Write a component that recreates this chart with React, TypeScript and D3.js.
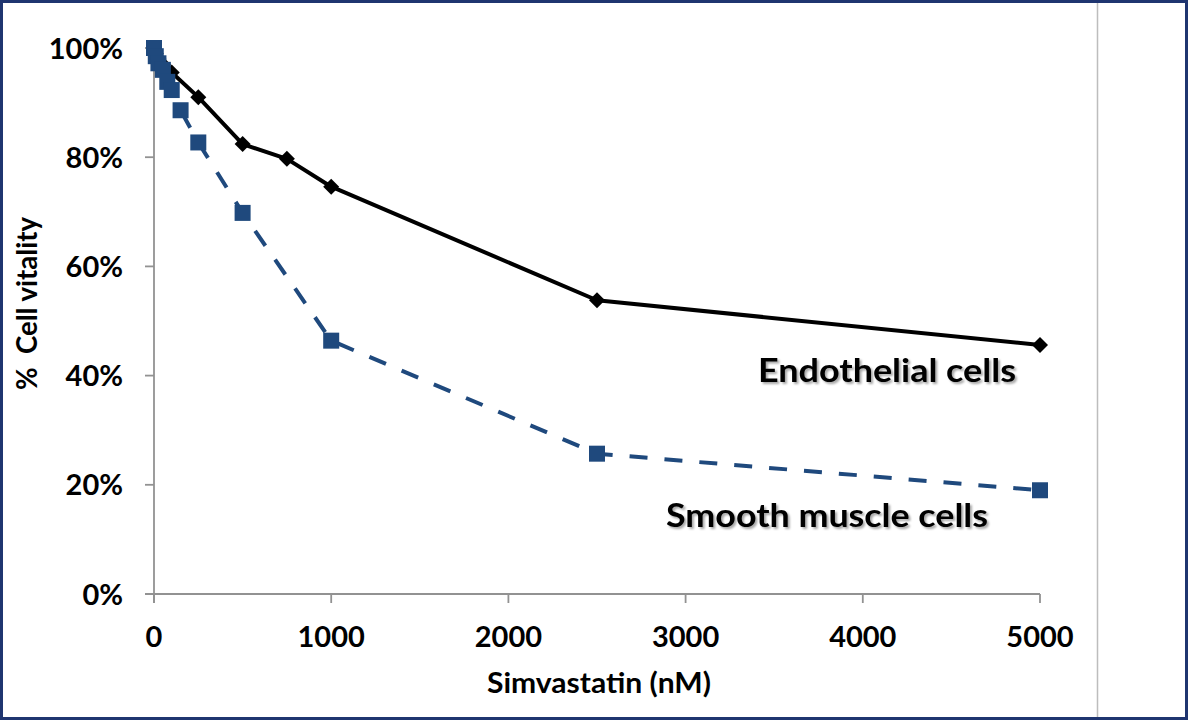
import React from "react";
import * as d3 from "d3";

const smcDose = [0, 10, 25, 50, 75, 100, 150, 250, 500, 1000, 2500, 5000];
const smcVital = [1.0, 0.985, 0.972, 0.96, 0.938, 0.923, 0.886, 0.827, 0.698, 0.464, 0.257, 0.19];
const ecDose = [0, 10, 25, 50, 100, 250, 500, 750, 1000, 2500, 5000];
const ecVital = [1.0, 0.99, 0.98, 0.97, 0.955, 0.91, 0.824, 0.797, 0.746, 0.538, 0.456];
const xTicks = [0, 1000, 2000, 3000, 4000, 5000];
const yTicks = [0, 0.2, 0.4, 0.6, 0.8, 1.0];
const seriesLabels = ["Endothelial cells", "Smooth muscle cells"];
const xTitle = "Simvastatin (nM)";
const yTitle = "%  Cell vitality";

const W = 1188;
const H = 720;
const FONT = "Lato, 'Open Sans', sans-serif";

export default function App() {
  const x = d3.scaleLinear().domain([0, 5000]).range([154, 1040]);
  const y = d3.scaleLinear().domain([0, 1]).range([594, 48]);
  const line = d3.line<[number, number]>().x((d) => x(d[0])).y((d) => y(d[1]));
  const ecPts: [number, number][] = ecDose.map((d, i) => [d, ecVital[i]]);
  const smcPts: [number, number][] = smcDose.map((d, i) => [d, smcVital[i]]);
  const blue = "#1f497d";
  const axisCol = "#929292";
  const fmt = d3.format(".0%");
  const diamond = "M0,-8L8,0L0,8L-8,0Z";
  const sq = 16;

  return (
    <svg width={W} height={H} style={{ position: "absolute", left: 0, top: 0, background: "#fff" }}>
      <defs>
        <filter id="sh" x="-10%" y="-30%" width="130%" height="160%">
          <feDropShadow dx="2" dy="2" stdDeviation="1.2" floodColor="#000" floodOpacity="0.35" />
        </filter>
      </defs>
      <rect x={0} y={0} width={W} height={H} fill="#fff" />
      <line x1={1097.5} x2={1097.5} y1={0} y2={H} stroke="#bdbdbd" strokeWidth={1.5} />
      <rect x={1.5} y={1.5} width={W - 3} height={H - 3} fill="none" stroke="#1f3570" strokeWidth={3} />

      {/* axes */}
      <line x1={x(0)} x2={x(0)} y1={y(1)} y2={y(0) + 9} stroke={axisCol} strokeWidth={1.8} />
      <line x1={x(0) - 9} x2={x(5000)} y1={y(0)} y2={y(0)} stroke={axisCol} strokeWidth={1.8} />
      {yTicks.map((t) => (
        <g key={"y" + t}>
          <line x1={x(0) - 9} x2={x(0)} y1={y(t)} y2={y(t)} stroke={axisCol} strokeWidth={1.8} />
          <text x={123} y={y(t) + 10.5} textAnchor="end" fontFamily={FONT} fontWeight="bold" fontSize={29} fill="#000">
            {fmt(t)}
          </text>
        </g>
      ))}
      {xTicks.map((t) => (
        <g key={"x" + t}>
          <line x1={x(t)} x2={x(t)} y1={y(0)} y2={y(0) + 9} stroke={axisCol} strokeWidth={1.8} />
          <text x={x(t)} y={647} textAnchor="middle" fontFamily={FONT} fontWeight="bold" fontSize={29} fill="#000">
            {t}
          </text>
        </g>
      ))}
      <text x={487} y={693} textLength={224} lengthAdjust="spacingAndGlyphs" fontFamily={FONT} fontWeight="bold" fontSize={29} fill="#000">
        {xTitle}
      </text>
      <text
        transform={`translate(37,390) rotate(-90)`}
        textLength={173}
        lengthAdjust="spacingAndGlyphs"
        fontFamily={FONT}
        fontWeight="bold"
        fontSize={28}
        fill="#000"
        style={{ whiteSpace: "pre" }}
      >
        {yTitle}
      </text>

      {/* series */}
      <path d={line(smcPts) || ""} fill="none" stroke={blue} strokeWidth={4} strokeDasharray="18,17" />
      <path d={line(ecPts) || ""} fill="none" stroke="#000" strokeWidth={4} strokeLinejoin="round" />
      {ecPts.map((p, i) => (
        <path key={"e" + i} d={diamond} transform={`translate(${x(p[0])},${y(p[1])})`} fill="#000" />
      ))}
      {smcPts.map((p, i) => (
        <rect key={"s" + i} x={x(p[0]) - sq / 2} y={y(p[1]) - sq / 2} width={sq} height={sq} fill={blue} />
      ))}

      <text x={758} y={382} textLength={258} lengthAdjust="spacingAndGlyphs" fontFamily={FONT} fontWeight="bold" fontSize={33} fill="#000" filter="url(#sh)">
        {seriesLabels[0]}
      </text>
      <text x={666} y={527} textLength={322} lengthAdjust="spacingAndGlyphs" fontFamily={FONT} fontWeight="bold" fontSize={33} fill="#000" filter="url(#sh)">
        {seriesLabels[1]}
      </text>
    </svg>
  );
}
